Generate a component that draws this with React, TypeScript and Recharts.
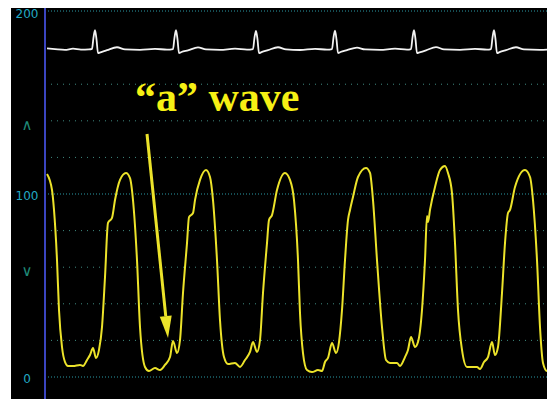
import React from "react"
import {
  LineChart,
  Line,
  XAxis,
  YAxis,
  ReferenceLine,
} from "recharts"

// pressure trace (yellow), time in s, value in mmHg
const pressureTime = [
  0.02, 0.07, 0.09, 0.12, 0.14, 0.17, 0.2, 0.23, 0.28, 0.35, 0.38, 0.42, 0.45, 0.48, 0.51, 0.54,
  0.57, 0.6, 0.63, 0.67, 0.7, 0.75, 0.81, 0.85, 0.88, 0.92, 0.95, 1.0, 1.04, 1.1, 1.15, 1.2,
  1.25, 1.28, 1.32, 1.35, 1.38, 1.42, 1.44, 1.48, 1.5, 1.55, 1.61, 1.65, 1.68, 1.72, 1.75, 1.79,
  1.83, 1.9, 1.95, 2.0, 2.05, 2.08, 2.12, 2.15, 2.18, 2.22, 2.24, 2.27, 2.32, 2.4, 2.45, 2.49,
  2.53, 2.55, 2.58, 2.62, 2.67, 2.73, 2.77, 2.8, 2.83, 2.87, 2.91, 2.94, 2.97, 3.0, 3.03, 3.05,
  3.08, 3.13, 3.21, 3.25, 3.28, 3.32, 3.37, 3.41, 3.45, 3.52, 3.55, 3.6, 3.63, 3.66, 3.7, 3.73,
  3.77, 3.8, 3.82, 3.83, 3.85, 3.9, 3.95, 4.0, 4.03, 4.07, 4.1, 4.13, 4.17, 4.22, 4.27, 4.32,
  4.35, 4.39, 4.43, 4.47, 4.5, 4.53, 4.57, 4.6, 4.63, 4.65, 4.7, 4.8, 4.85, 4.88, 4.92, 4.95,
  4.98, 5.02, 5.1,
]
const pressureValue = [
  110.9, 102.2, 91.3, 63.9, 36.6, 16.4, 8.2, 6.0, 6.0, 6.6, 6.0, 9.3, 12.0, 15.8, 10.4, 14.8,
  27.3, 54.6, 84.2, 86.9, 96.7, 107.7, 111.5, 108.7, 96.7, 63.9, 27.3, 5.5, 3.3, 4.9, 3.8, 6.6,
  10.9, 19.7, 13.1, 20.2, 45.9, 73.2, 87.4, 89.6, 96.7, 107.7, 113.1, 109.3, 96.7, 63.9, 31.1, 10.9,
  7.1, 7.7, 5.5, 9.3, 13.7, 19.1, 13.7, 20.2, 45.9, 73.2, 85.8, 88.5, 102.2, 111.5, 107.7, 96.7,
  63.9, 35.0, 13.1, 3.8, 2.7, 3.8, 3.3, 8.2, 10.4, 18.6, 13.1, 19.1, 36.6, 63.9, 85.8, 91.3,
  98.4, 109.3, 114.2, 111.5, 96.7, 63.9, 27.3, 9.3, 7.7, 7.7, 6.0, 10.9, 14.8, 21.9, 16.4, 19.1,
  36.6, 63.9, 88.0, 84.7, 91.3, 103.8, 113.1, 115.3, 111.5, 100.5, 73.2, 36.6, 14.8, 5.5, 5.5, 5.5,
  4.4, 8.2, 10.9, 19.1, 12.0, 16.4, 45.9, 73.2, 89.6, 91.3, 103.8, 113.1, 109.3, 96.7, 63.9, 27.3,
  7.7, 3.3, 3.3,
]

// ECG trace (white), drawn on the same scale near the top
const ecgTime = [
  0.02, 0.1, 0.2, 0.28, 0.36, 0.44, 0.47, 0.485, 0.5, 0.515, 0.53, 0.555, 0.62, 0.72, 0.8, 0.95,
  1.1, 1.22, 1.28, 1.295, 1.31, 1.325, 1.34, 1.365, 1.43, 1.53, 1.61, 1.75, 1.9, 2.02, 2.08, 2.095,
  2.11, 2.125, 2.14, 2.165, 2.23, 2.33, 2.41, 2.55, 2.7, 2.82, 2.87, 2.885, 2.9, 2.915, 2.93, 2.955,
  3.02, 3.12, 3.2, 3.35, 3.5, 3.62, 3.66, 3.675, 3.69, 3.705, 3.72, 3.745, 3.81, 3.91, 3.99, 4.15,
  4.3, 4.42, 4.46, 4.475, 4.49, 4.505, 4.52, 4.545, 4.61, 4.71, 4.79, 4.95, 5.1,
]
const ecgValue = [
  179.6, 179.2, 178.8, 179.4, 178.9, 179.0, 179.3, 185.5, 189.5, 184.5, 177.0, 177.4, 178.6, 180.2, 179.0, 178.8,
  179.3, 178.9, 179.2, 185.5, 189.5, 184.5, 177.0, 177.6, 178.5, 180.1, 179.0, 178.8, 179.4, 178.9, 179.2, 185.5,
  189.2, 184.5, 177.0, 177.5, 178.6, 180.2, 179.0, 178.7, 179.3, 178.9, 179.2, 185.5, 189.3, 184.5, 177.0, 177.6,
  178.6, 180.0, 179.0, 178.8, 179.4, 178.9, 179.2, 185.5, 189.5, 184.5, 177.0, 177.4, 178.5, 180.3, 179.0, 178.8,
  179.3, 178.9, 179.2, 185.5, 189.5, 184.5, 177.0, 177.5, 178.6, 180.2, 179.0, 178.8, 179.2,
]

const tickValues = [0, 60, 100, 140, 200]
const tickLabels: Record<number, string> = { 0: "0", 60: "∨", 100: "100", 140: "∧", 200: "200" }
const gridDense = [0, 100, 200]
const gridSparse = [20, 40, 60, 80, 120, 140, 160]

// arrow pointing at the "a" wave (start, tip)
const arrowFrom = { x: 1.02, y: 132.8 }
const arrowTo = { x: 1.23, y: 21.3 }

const pressureData = pressureTime.map((t, i) => ({ t, v: pressureValue[i] }))
const ecgData = ecgTime.map((t, i) => ({ t, v: ecgValue[i] }))

const YELLOW = "#ece32a"
const AXIS_BLUE = "#3b45c0"

function YTick(props: any) {
  const { x, y, payload } = props
  const label = tickLabels[payload.value] ?? ""
  const chevron = label === "∧" || label === "∨"
  return (
    <text
      x={x - 10}
      y={y + (chevron ? 4 : payload.value === 200 ? 3 : 2)}
      textAnchor="middle"
      dominantBaseline="central"
      fill={chevron ? "#1f8a78" : "#22aac4"}
      fontSize={chevron ? 15 : 12}
      fontFamily="'DejaVu Sans', Verdana, sans-serif"
    >
      {label}
    </text>
  )
}

function Arrow(props: any) {
  const { x1, y1, x2, y2 } = props
  const dx = x2 - x1
  const dy = y2 - y1
  const len = Math.sqrt(dx * dx + dy * dy)
  const ux = dx / len
  const uy = dy / len
  const head = 22
  const bx = x2 - ux * head
  const by = y2 - uy * head
  const px = -uy * 6
  const py = ux * 6
  return (
    <g>
      <line x1={x1} y1={y1} x2={bx} y2={by} stroke={YELLOW} strokeWidth={3} />
      <polygon
        points={`${x2},${y2} ${bx + px},${by + py} ${bx - px},${by - py}`}
        fill={YELLOW}
      />
    </g>
  )
}

export default function App() {
  return (
    <div style={{ position: "relative", width: 555, height: 407, margin: -8, background: "#fff" }}>
      <div style={{ position: "absolute", left: 11, top: 7, width: 544, height: 400, background: "#000" }}>
        <LineChart
          width={544}
          height={400}
          margin={{ top: 0, right: 0, bottom: 2, left: 0 }}
          style={{ overflow: "visible" }}
        >
          <XAxis
            type="number"
            dataKey="t"
            domain={[0, 5.1]}
            allowDataOverflow
            tick={false}
            tickLine={false}
            height={0}
            axisLine={{ stroke: AXIS_BLUE, strokeWidth: 3 }}
          />
          <YAxis
            type="number"
            domain={[-15.3, 202.2]}
            allowDataOverflow
            ticks={tickValues}
            interval={0}
            width={34}
            tickLine={false}
            tickSize={0}
            tickMargin={8}
            tick={<YTick />}
            axisLine={{ stroke: AXIS_BLUE, strokeWidth: 2 }}
          />
          {gridSparse.map((v) => (
            <ReferenceLine key={`s${v}`} y={v} stroke="#3f8a80" strokeDasharray="1 5" strokeWidth={1} />
          ))}
          {gridDense.map((v) => (
            <ReferenceLine key={`d${v}`} y={v} stroke="#2a9aa6" strokeDasharray="1 2" strokeWidth={1} />
          ))}
          <Line
            data={ecgData}
            dataKey="v"
            type="monotone"
            stroke="#f2f2f2"
            strokeWidth={1.8}
            dot={false}
            isAnimationActive={false}
          />
          <Line
            data={pressureData}
            dataKey="v"
            type="monotone"
            stroke={YELLOW}
            strokeWidth={2}
            dot={false}
            isAnimationActive={false}
          />
          <ReferenceLine segment={[arrowFrom, arrowTo]} shape={<Arrow />} ifOverflow="visible" />
        </LineChart>
      </div>
      <svg width={555} height={407} style={{ position: "absolute", left: 0, top: 0, pointerEvents: "none" }}>
        <text
          x={135}
          y={111}
          fill="#f6f014"
          fontSize={42}
          fontWeight="bold"
          fontFamily="'Liberation Serif', 'Times New Roman', serif"
        >
          “a” wave
        </text>
      </svg>
    </div>
  )
}
